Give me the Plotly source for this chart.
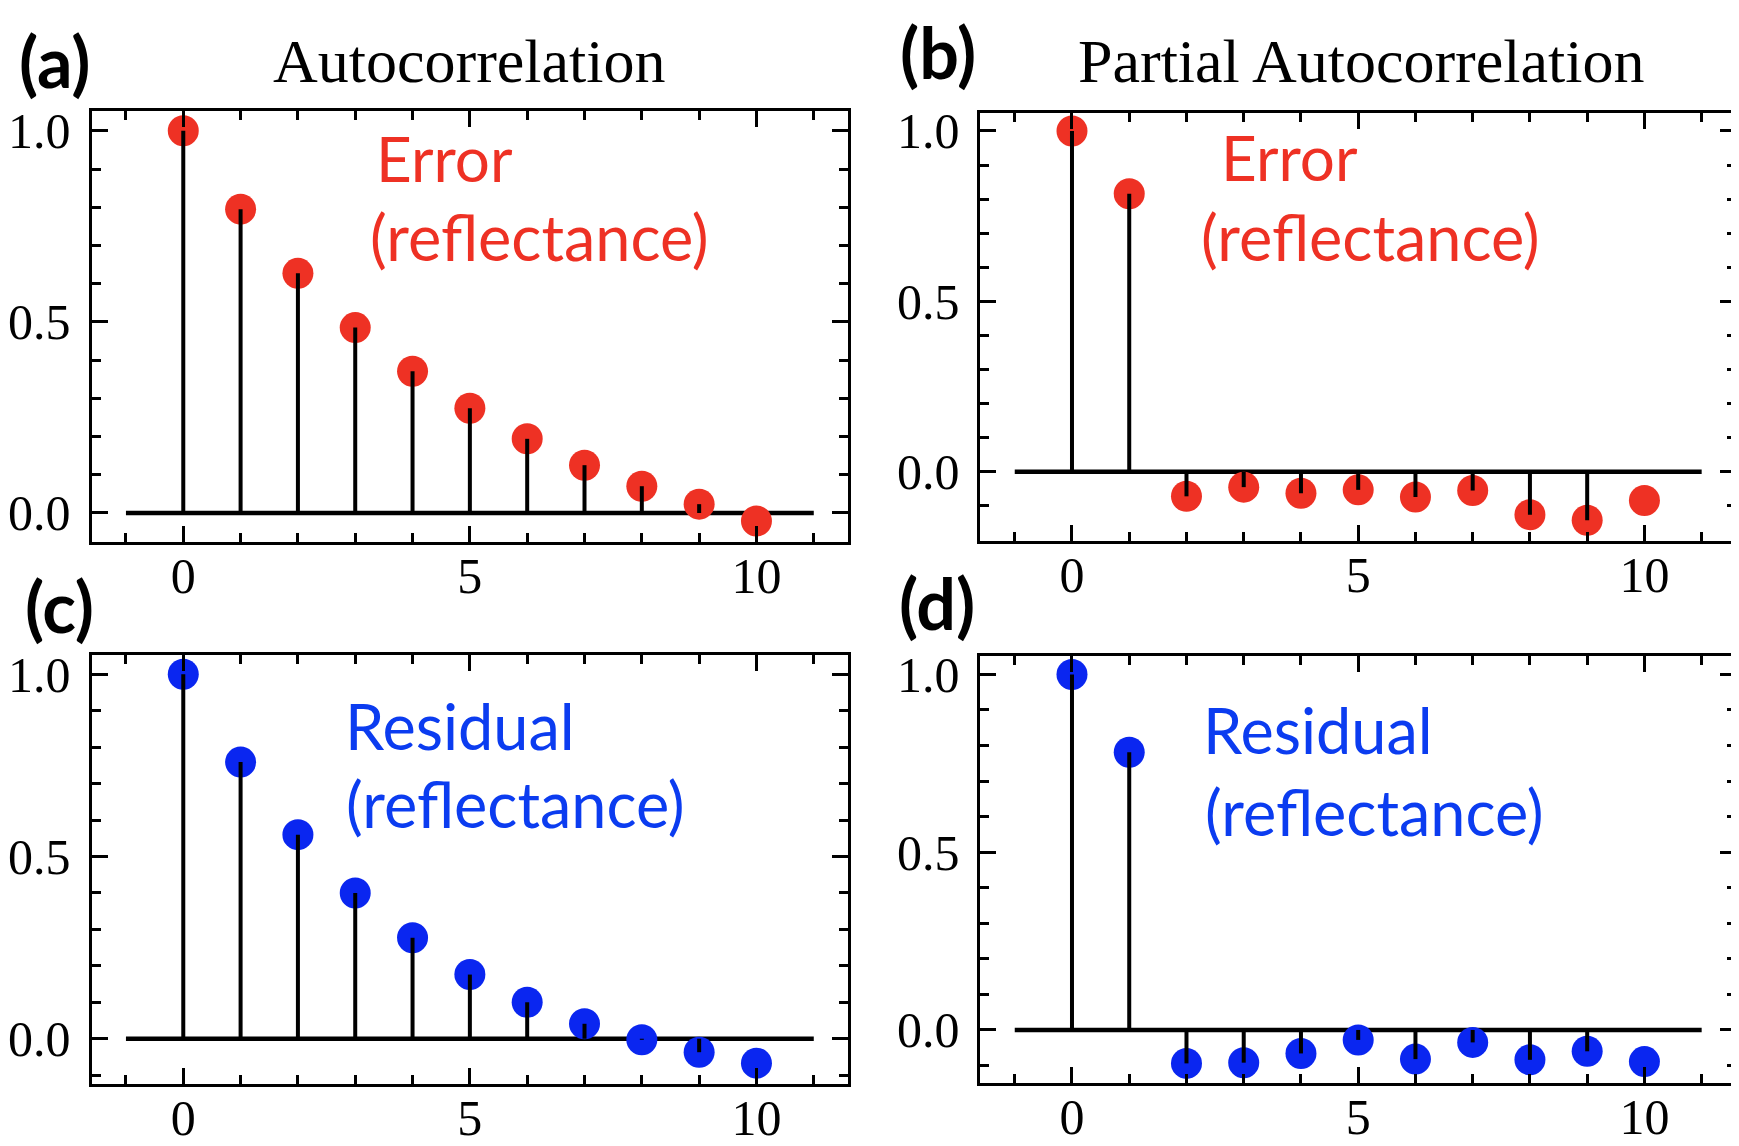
import plotly.graph_objects as go

# ---- data ----
lags = list(range(11))
stem_lags = list(range(10))  # lag 10 has no visible stem in the reference
acf_error = [1.0, 0.795, 0.627, 0.485, 0.371, 0.274, 0.194, 0.125, 0.070, 0.023, -0.021]
pacf_error = [1.0, 0.816, -0.072, -0.045, -0.063, -0.053, -0.074, -0.055, -0.126, -0.142, -0.084]
acf_resid = [1.0, 0.759, 0.560, 0.400, 0.277, 0.176, 0.100, 0.041, -0.003, -0.037, -0.067]
pacf_resid = [1.0, 0.781, -0.094, -0.092, -0.066, -0.028, -0.082, -0.035, -0.084, -0.060, -0.089]
xtick_vals = [0, 5, 10]
ytick_vals = [0.0, 0.5, 1.0]
ytick_text = ["0.0", "0.5", "1.0"]

W, H = 1739, 1146
O = 8  # default page (body) margin of the html page
FW, FH = W - O, H - O
RED = "#EE3124"
BLUE = "#0A26F0"
RED_T = "#EE3124"
BLUE_T = "#0B3CF0"

def px_x(p):
    return (p - O) / FW

def px_y(p):
    return 1 - (p - O) / FH

panels = [
    ("a", acf_error, RED, (83, 844), (104, 542), [-0.075, 1.051]),
    ("b", pacf_error, RED, (977, 1737), (106, 541), [-0.202, 1.052]),
    ("c", acf_resid, BLUE, (83, 844), (657, 1094), [-0.124, 1.054]),
    ("d", pacf_resid, BLUE, (977, 1737), (658, 1093), [-0.149, 1.053]),
]

fig = go.Figure()
layout = {}
serif = "Liberation Serif, Times New Roman, serif"
sans = "Lato, Open Sans, sans-serif"

for i, (name, vals, col, xd, yd, yr) in enumerate(panels):
    n = "" if i == 0 else str(i + 1)
    xa, ya = "x" + n, "y" + n
    fig.add_trace(go.Scatter(x=[-1, 11], y=[0, 0], mode="lines",
                             line=dict(color="black", width=4.5),
                             xaxis=xa, yaxis=ya, showlegend=False, hoverinfo="skip"))
    fig.add_trace(go.Scatter(x=lags, y=vals, mode="markers",
                             marker=dict(color=col, size=31, line=dict(width=0)),
                             xaxis=xa, yaxis=ya, showlegend=False))
    sx, sy = [], []
    for k in stem_lags:
        sx += [k, k, None]
        sy += [0, vals[k], None]
    fig.add_trace(go.Scatter(x=sx, y=sy, mode="lines",
                             line=dict(color="black", width=4),
                             xaxis=xa, yaxis=ya, showlegend=False, hoverinfo="skip"))
    common = dict(showgrid=False, zeroline=False, showline=True, linecolor="black",
                  linewidth=3, mirror="allticks", ticks="inside", ticklen=16,
                  tickwidth=2.5, tickcolor="black",
                  tickfont=dict(family=serif, size=50, color="black"))
    layout["xaxis" + n] = dict(common, domain=[px_x(xd[0]), px_x(xd[1])], range=[-1.6, 11.6],
                               anchor=ya, tickvals=xtick_vals, ticklabelstandoff=-12,
                               minor=dict(ticks="inside", ticklen=9, tickwidth=2.5,
                                          tickcolor="black", dtick=1, tick0=0))
    layout["yaxis" + n] = dict(common, domain=[px_y(yd[1]), px_y(yd[0])], range=yr,
                               anchor=xa, tickvals=ytick_vals, ticktext=ytick_text,
                               ticklabelstandoff=8,
                               minor=dict(ticks="inside", ticklen=9, tickwidth=2.5,
                                          tickcolor="black", dtick=0.1, tick0=0))

ann = []
def A(text, x, y, size, family, color, xanchor="left", weight="normal", yanchor="middle", paper=False):
    ann.append(dict(text=text, x=x if paper else px_x(x), y=y if paper else px_y(y),
                    xref="paper", yref="paper",
                    xanchor=xanchor, yanchor=yanchor, showarrow=False,
                    font=dict(family=family, size=size, color=color, weight=weight)))

# titles
A("Autocorrelation", 463, 53, 62, serif, "black", "center")
A("Partial Autocorrelation", 1360, 53, 62, serif, "black", "center")
# panel labels
A("(a)", 0, 1, 70, sans, "black", "left", "bold", "top", paper=True)
A("(b)", 934, 44, 70, sans, "black", "center", "bold")
A("(c)", 51, 608, 70, sans, "black", "center", "bold")
A("(d)", 933, 604, 70, sans, "black", "center", "bold")
# in-plot texts
A("Error", 367, 152, 62, sans, RED_T)
A("(reflectance)", 361, 231, 63, sans, RED_T)
A("Error", 1217, 151, 62, sans, RED_T)
A("(reflectance)", 1197, 231, 63, sans, RED_T)
A("Residual", 336, 729, 63, sans, BLUE_T)
A("(reflectance)", 337, 809, 63, sans, BLUE_T)
A("Residual", 1199, 733, 63, sans, BLUE_T)
A("(reflectance)", 1201, 817, 63, sans, BLUE_T)

fig.update_layout(width=FW, height=FH, margin=dict(l=0, r=0, t=0, b=0),
                  paper_bgcolor="white", plot_bgcolor="white",
                  annotations=ann, **layout)
fig.write_html("out.html")
